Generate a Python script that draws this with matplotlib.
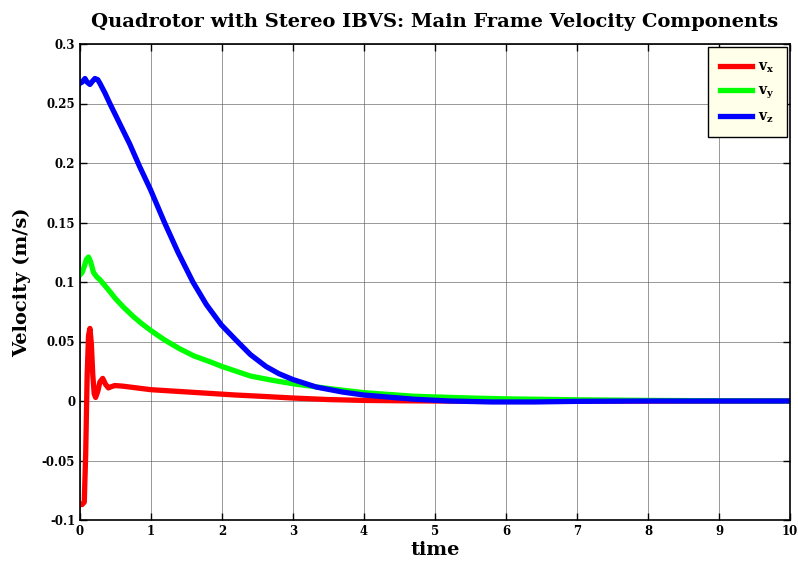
import numpy as np
import matplotlib.pyplot as plt

# --- datos ---
t_x = [0, 0.03, 0.06, 0.08, 0.10, 0.12, 0.14, 0.16, 0.18, 0.20, 0.22, 0.25, 0.28, 0.32,
       0.36, 0.40, 0.44, 0.49, 0.6, 0.8, 1.0, 1.4, 1.8, 2.2, 2.6, 3.0, 3.5, 4.0, 4.5, 5.0, 6.0, 8.0, 10.0]
v_x = [-0.087, -0.087, -0.085, -0.045, 0.02, 0.055, 0.061, 0.048, 0.022, 0.006, 0.003, 0.008, 0.016, 0.019,
       0.014, 0.011, 0.012, 0.013, 0.0125, 0.011, 0.0095, 0.008, 0.0065, 0.005, 0.0038, 0.0025, 0.0012,
       0.0005, 0.0002, 0.0, 0.0, 0.0, 0.0]

t_y = [0, 0.03, 0.06, 0.09, 0.12, 0.15, 0.19, 0.24, 0.28, 0.35, 0.42, 0.5, 0.61, 0.75, 0.87, 0.98, 1.1,
       1.2, 1.4, 1.6, 1.83, 2.0, 2.2, 2.4, 2.7, 3.0, 3.5, 4.0, 4.7, 5.5, 6.0, 7.0, 8.0, 9.0, 10.0]
v_y = [0.106, 0.108, 0.113, 0.119, 0.121, 0.117, 0.108, 0.104, 0.102, 0.097, 0.092, 0.086, 0.079, 0.071,
       0.065, 0.060, 0.055, 0.051, 0.044, 0.038, 0.033, 0.029, 0.025, 0.021, 0.0175, 0.0145, 0.0105,
       0.007, 0.004, 0.0025, 0.0018, 0.001, 0.0005, 0.0002, 0.0]

t_z = [0, 0.03, 0.07, 0.10, 0.14, 0.18, 0.21, 0.25, 0.28, 0.35, 0.42, 0.56, 0.70, 0.84, 0.99, 1.19,
       1.38, 1.59, 1.78, 1.99, 2.2, 2.4, 2.62, 2.8, 3.0, 3.33, 3.7, 4.0, 4.7, 5.2, 5.8, 6.4, 7.0,
       8.0, 9.0, 10.0]
v_z = [0.267, 0.268, 0.271, 0.268, 0.266, 0.269, 0.271, 0.270, 0.267, 0.259, 0.250, 0.233, 0.216, 0.197,
       0.178, 0.150, 0.125, 0.100, 0.081, 0.064, 0.051, 0.039, 0.029, 0.023, 0.018, 0.0117, 0.0075,
       0.005, 0.0015, 0.0, -0.0008, -0.0008, -0.0003, 0.0, 0.0, 0.0]

x_ticks = np.arange(0, 11, 1)
y_ticks = [-0.1, -0.05, 0, 0.05, 0.1, 0.15, 0.2, 0.25, 0.3]
y_labels = ['-0.1', '-0.05', '0', '0.05', '0.1', '0.15', '0.2', '0.25', '0.3']

# --- grafico ---
plt.rcParams['font.family'] = ['DejaVu Serif']
plt.rcParams['mathtext.fontset'] = 'dejavuserif'

fig = plt.figure(figsize=(7.98, 5.67), dpi=100)
ax = fig.add_axes([80/798, 47/567, 710/798, 476/567])

ax.plot(t_x, v_x, color='#ff0000', lw=3.8, label=r'$\mathbf{v_x}$')
ax.plot(t_y, v_y, color='#00ff00', lw=3.8, label=r'$\mathbf{v_y}$')
ax.plot(t_z, v_z, color='#0000ff', lw=3.8, label=r'$\mathbf{v_z}$')

ax.set_xlim(0, 10)
ax.set_ylim(-0.1, 0.3)
ax.set_xticks(x_ticks)
ax.set_yticks(y_ticks)
ax.set_yticklabels(y_labels)
ax.tick_params(direction='in', top=True, right=True, labelsize=8.5, length=5, width=1)
for lab in ax.get_xticklabels() + ax.get_yticklabels():
    lab.set_fontweight('bold')
ax.grid(True, color='#555555', lw=0.6, alpha=0.7)
for s in ax.spines.values():
    s.set_linewidth(1.2)

ax.set_title('Quadrotor with Stereo IBVS: Main Frame Velocity Components',
             fontsize=14, fontweight='bold', pad=12)
ax.set_xlabel('time', fontsize=14, fontweight='bold', labelpad=2)
ax.set_ylabel('Velocity (m/s)', fontsize=14, fontweight='bold', labelpad=8)

leg = ax.legend(loc='upper right', fontsize=10, fancybox=False, framealpha=1,
                facecolor='#ffffea', edgecolor='black', handlelength=2.3,
                borderpad=0.9, labelspacing=0.6, borderaxespad=0.25, handletextpad=0.4)
leg.get_frame().set_linewidth(1.0)

plt.savefig('out.png', dpi=100)
